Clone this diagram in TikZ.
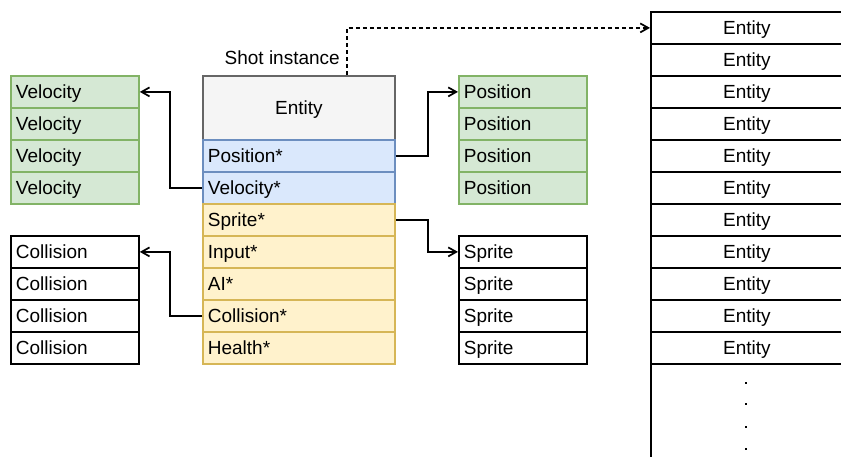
\documentclass[tikz,border=0pt]{standalone}
\usepackage{fontspec}
\setmainfont{Liberation Sans}
\usetikzlibrary{arrows.meta}
\definecolor{greenfill}{HTML}{D5E8D4}
\definecolor{greenline}{HTML}{82B366}
\definecolor{bluefill}{HTML}{DAE8FC}
\definecolor{blueline}{HTML}{6C8EBF}
\definecolor{yellowfill}{HTML}{FFF2CC}
\definecolor{yellowline}{HTML}{D6B656}
\definecolor{grayfill}{HTML}{F5F5F5}
\definecolor{grayline}{HTML}{666666}
\tikzset{
    cell/.style={draw, line width=1.8pt, anchor=north west, minimum height=32pt,
        inner xsep=5pt, inner ysep=0pt, text height=13.7pt, text depth=0pt,
        align=left, font=\fontsize{19}{22}\selectfont},
    narrow/.style={cell, minimum width=128pt, text width=118pt},
    wide/.style={cell, minimum width=192pt, text width=182pt},
    greencell/.style={fill=greenfill, draw=greenline},
    bluecell/.style={fill=bluefill, draw=blueline},
    yellowcell/.style={fill=yellowfill, draw=yellowline},
    link/.style={line width=1.7pt, -{Straight Barb[length=8pt,width=9pt]}},
}
\begin{document}
\begin{tikzpicture}[x=1pt, y=-1pt]
    \useasboundingbox (0,0) rectangle (841,457);
    \clip (0,0) rectangle (841,457);

    \foreach \i in {1,...,4} {
        \node[narrow, greencell] (vel\i) at (10,{75+32*(\i-1)}) {Velocity};
        \node[narrow] (col\i) at (10,{235+32*(\i-1)}) {Collision};
        \node[narrow, greencell] (pos\i) at (458,{75+32*(\i-1)}) {Position};
        \node[narrow] (spr\i) at (458,{235+32*(\i-1)}) {Sprite};
    }

    \node[wide, fill=grayfill, draw=grayline, minimum height=64pt, align=center] (entity) at (202,75) {Entity};
    \foreach \nm/\txt/\st [count=\k] in {spos/Position*/bluecell, svel/Velocity*/bluecell,
        sspr/Sprite*/yellowcell, sinp/Input*/yellowcell, sai/AI*/yellowcell,
        scol/Collision*/yellowcell, shp/Health*/yellowcell}
        \node[wide, \st] (\nm) at (202,{139+32*(\k-1)}) {\txt};

    \foreach \i in {1,...,11}
        \node[wide, align=center] (ent\i) at (650,{11+32*(\i-1)}) {Entity};
    \node[draw, line width=1.8pt, anchor=north west, minimum width=192pt, minimum height=130pt] (more) at (650,363) {};
    \foreach \d in {20,41,64,86}
        \fill ([xshift=-1pt,yshift=-\d pt]more.north) +(-1,-1) rectangle +(1,1);

    \node[anchor=east, inner sep=0pt, font=\fontsize{19}{22}\selectfont] (shotlabel) at (340,58) {Shot instance};

    \draw[link] (svel.west) -- ++(-32,0) |- (vel1.east);
    \draw[link] (scol.west) -- ++(-32,0) |- (col1.east);
    \draw[link] (spos.east) -- ++(32,0) |- (pos1.west);
    \draw[link] (sspr.east) -- ++(32,0) |- (spr1.west);
    \draw[link, dash pattern=on 4pt off 3pt] ([xshift=48pt]entity.north) |- (ent1.west);
\end{tikzpicture}
\end{document}
